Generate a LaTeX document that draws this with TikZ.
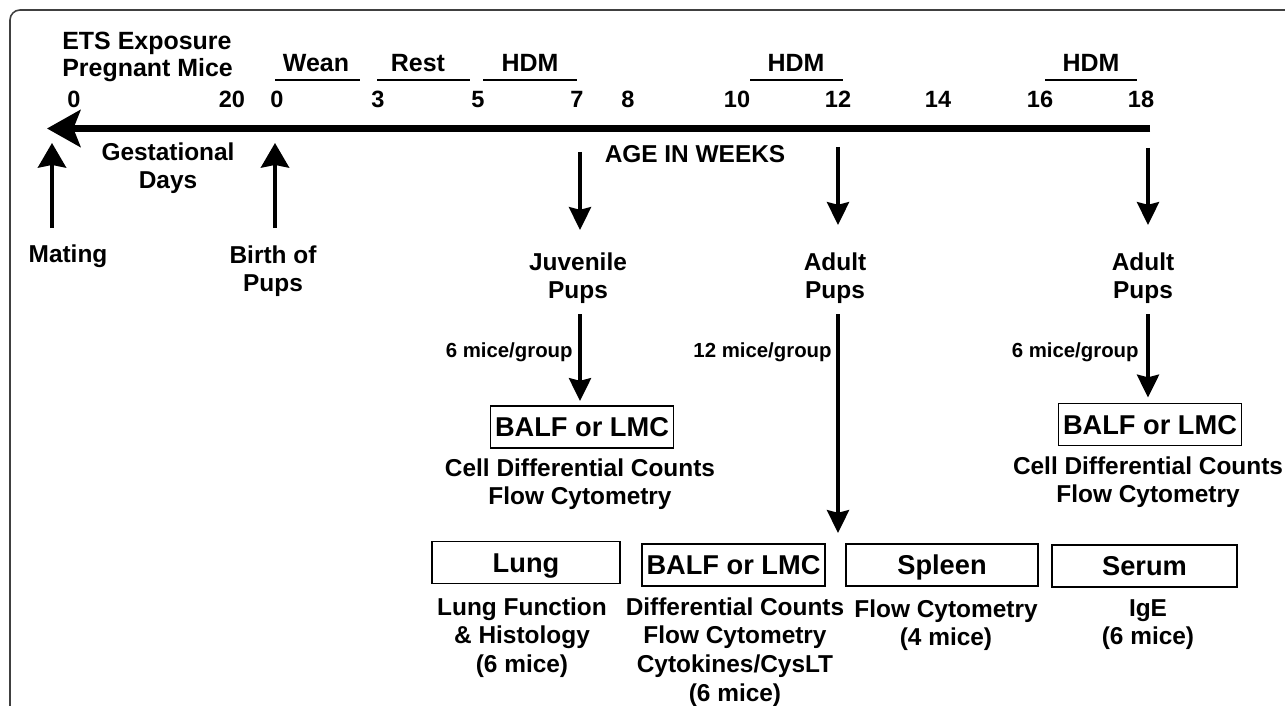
\documentclass[tikz,border=0pt]{standalone}
\usepackage{fontspec}
\setmainfont{Liberation Sans}
\usetikzlibrary{arrows.meta}
\tikzset{
	toptxt/.style={font=\fontsize{14.2}{15}\selectfont\bfseries, inner sep=0},
	numtxt/.style={font=\fontsize{13.4}{15}\selectfont\bfseries, inner sep=0, anchor=base},
	midtxt/.style={font=\fontsize{13.9}{16.4}\selectfont\bfseries, inner sep=0, align=center},
	grptxt/.style={font=\fontsize{11.6}{14}\selectfont\bfseries, inner sep=0, anchor=base east},
	sitebox/.style={draw, line width=1.1pt, inner sep=0, minimum height=0.84cm, text height=11.1pt, text depth=0pt, font=\fontsize{15.5}{18}\selectfont\bfseries},
	barline/.style={line width=1.4pt},
	timeline/.style={line width=3.7pt, -{Stealth[length=19pt, width=21pt, inset=4pt]}},
	arr/.style={line width=2.3pt, -{Stealth[length=13pt, width=12.5pt, inset=1.5pt]}},
	uparr/.style={line width=2.3pt, -{Stealth[length=14pt, width=16pt, inset=1.5pt]}},
}

\begin{document}
\begin{tikzpicture}[x=0.02cm, y=-0.02cm]
			%%%%% START %%%%%
			\useasboundingbox (0,0) rectangle (1285,706);
			\draw[line width=0.9pt, color=black!75, rounded corners=0.2cm] (10,706) -- (10,10) -- (1285,10);
			
			% labels over the time line
			\node[toptxt, align=left, anchor=north west] (ets) at (62,32) {ETS Exposure\\Pregnant Mice};
			
			\node[toptxt, anchor=base] (wean) at (316,72) {Wean};
			\draw[barline] (275,80) -- (360,80);
			\node[toptxt, anchor=base] (rest) at (418,72) {Rest};
			\draw[barline] (377,80) -- (470,80);
			\node[toptxt, anchor=base] (hdmA) at (530,72) {HDM};
			\draw[barline] (483,80) -- (577,80);
			\node[toptxt, anchor=base] (hdmB) at (796,72) {HDM};
			\draw[barline] (750,80) -- (843,80);
			\node[toptxt, anchor=base] (hdmC) at (1091,72) {HDM};
			\draw[barline] (1045,80) -- (1137,80);
			
			\foreach \xpos/\lab [count=\i] in {74/0, 232/20, 277/0, 378/3, 478/5, 577/7, 628/8, 737/10, 838/12, 938/14, 1040/16, 1141/18}
				\node[numtxt] (tick\i) at (\xpos,108) {\lab};
			
			% time line
			\coordinate (lineR) at (1150,128.5);
			\coordinate (lineL) at (47,128.5);
			\draw[timeline] (lineR) -- (lineL);
			
			\node[midtxt, anchor=north] (gest) at (168,142) {Gestational\\Days};
			\node[midtxt, anchor=base] (age) at (695,162) {AGE IN WEEKS};
			
			% mating and birth
			\node[midtxt, anchor=base] (mating) at (68,262) {Mating};
			\node[midtxt, anchor=north] (birth) at (273,245) {Birth of\\Pups};
			\coordinate (mateFoot) at (52,228);
			\coordinate (mateTip) at (52,143);
			\draw[uparr] (mateFoot) -- (mateTip);
			\coordinate (birthFoot) at (275,228);
			\coordinate (birthTip) at (275,143);
			\draw[uparr] (birthFoot) -- (birthTip);
			
			% pups taken off the line
			\coordinate (wk7) at (580,152);
			\coordinate (wk12) at (838,147);
			\coordinate (wk18) at (1148,148);
			\node[midtxt, anchor=north] (juv) at (578,252) {Juvenile\\Pups};
			\node[midtxt, anchor=north] (adultA) at (835,252) {Adult\\Pups};
			\node[midtxt, anchor=north] (adultB) at (1143,252) {Adult\\Pups};
			\draw[arr, shorten >=0.44cm] (wk7) -- (wk7 |- juv.north);
			\draw[arr, shorten >=0.54cm] (wk12) -- (wk12 |- adultA.north);
			\draw[arr, shorten >=0.54cm] (wk18) -- (wk18 |- adultB.north);
			
			% first samples
			\node[sitebox, minimum width=3.66cm] (balfA) at (582,427) {BALF or LMC};
			\node[midtxt, anchor=north] (capA) at (580,458) {Cell Differential Counts\\Flow Cytometry};
			\node[sitebox, minimum width=3.66cm] (balfC) at (1150,424.5) {BALF or LMC};
			\node[midtxt, anchor=north] (capC) at (1148,456) {Cell Differential Counts\\Flow Cytometry};
			
			\node[grptxt] (grpA) at (573,357) {6 mice/group};
			\node[grptxt] (grpB) at (832,357) {12 mice/group};
			\node[grptxt] (grpC) at (1139,357) {6 mice/group};
			
			\coordinate (midTip) at (838,533);
			\draw[arr, shorten <=0.2cm, shorten >=0.08cm] (juv.south -| wk7) -- (wk7 |- balfA.north);
			\draw[arr, shorten <=0.2cm] (adultA.south -| wk12) -- (midTip);
			\draw[arr, shorten <=0.2cm, shorten >=0.1cm] (adultB.south -| wk18) -- (wk18 |- balfC.north);
			
			% adult samples
			\node[sitebox, minimum width=3.76cm] (lung) at (526,562.5) {Lung};
			\node[sitebox, minimum width=3.66cm] (balfB) at (733.5,565) {BALF or LMC};
			\node[sitebox, minimum width=3.84cm] (spleen) at (942,565) {Spleen};
			\node[sitebox, minimum width=3.70cm] (serum) at (1144.5,566) {Serum};
			
			\node[midtxt, anchor=north] (capLung) at (522,597) {Lung Function\\\& Histology\\(6 mice)};
			\node[midtxt, anchor=north] (capBalf) at (735,597) {Differential Counts\\Flow Cytometry\\Cytokines/CysLT\\(6 mice)};
			\node[midtxt, anchor=north] (capSpleen) at (946,599) {Flow Cytometry\\(4 mice)};
			\node[midtxt, anchor=north] (capSerum) at (1148,599) {IgE\\(6 mice)};
			
			%%%%% END %%%%%
\end{tikzpicture}
\end{document}
